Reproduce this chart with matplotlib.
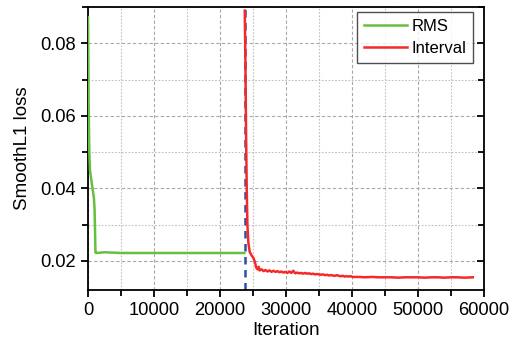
import matplotlib
matplotlib.use("Agg")
import matplotlib.pyplot as plt
from matplotlib.ticker import MultipleLocator

plt.rcParams['font.family'] = ['Liberation Sans', 'DejaVu Sans']

# RMS series
rms_iter = [0, 50, 100, 200, 300, 400, 600, 900, 1000, 1080, 1130, 1300, 2500, 5000, 10000, 15000, 20000, 23700]
rms_loss = [0.0872, 0.075, 0.063, 0.050, 0.045, 0.0437, 0.041, 0.0373, 0.034, 0.027, 0.0223, 0.0222, 0.0224,
            0.0222, 0.0222, 0.0222, 0.0222, 0.0222]

# Interval series
int_iter = [23750, 23850, 23950, 24050, 24150, 24300, 24500, 24800, 25100, 25300, 25500, 25700,
            25850, 26000, 26300, 26600, 26900, 27200, 27500, 27800, 28100, 28400, 28700, 29000,
            29300, 29600, 29900, 30200, 30500, 30800, 31100, 31400, 31700, 32000, 32300, 32600,
            32900, 33200, 33500, 33800, 34100, 34400, 34700, 35000, 35300, 35600, 35900, 36200,
            36500, 36800, 37100, 37400, 37700, 38000, 38300, 38600, 38900, 39200, 39500, 39800,
            40100, 41000, 42000, 43000, 44000, 45000, 46000, 47000, 48000, 49000, 50000, 51000,
            52000, 53000, 54000, 55000, 56000, 57000, 58300]
int_loss = [0.0890, 0.075, 0.055, 0.040, 0.030, 0.025, 0.0225, 0.0215, 0.0207, 0.0196, 0.0181, 0.0177,
            0.0184, 0.0174, 0.0177, 0.0172, 0.0175, 0.0171, 0.0174, 0.0170, 0.0173, 0.0170, 0.0172, 0.0169,
            0.0171, 0.0168, 0.0170, 0.0167, 0.0171, 0.0167, 0.0173, 0.0166, 0.0168, 0.0166, 0.0167, 0.0165,
            0.0167, 0.0165, 0.0166, 0.0164, 0.0165, 0.0163, 0.0164, 0.0163, 0.0162, 0.0163, 0.0161, 0.0162,
            0.0160, 0.0161, 0.0160, 0.0159, 0.0161, 0.0159, 0.0158, 0.0159, 0.0157, 0.0158, 0.0157, 0.0158,
            0.0156, 0.0156, 0.0155, 0.0156, 0.0155, 0.0155, 0.0155, 0.0154, 0.0155, 0.0155, 0.0155, 0.0154,
            0.0155, 0.0155, 0.0154, 0.0155, 0.0155, 0.0154, 0.0155]

switch_iter = 23800

fig = plt.figure(figsize=(5.18, 3.49), dpi=100)
ax = fig.add_axes([88/518, 1-290/349, (484-88)/518, (290-7)/349])

ax.plot(rms_iter, rms_loss, color='#66c03c', lw=1.8, label='RMS', zorder=3)
ax.plot(int_iter, int_loss, color='#f42a2a', lw=1.8, label='Interval', zorder=3)
ax.axvline(switch_iter, color='#2a52a8', lw=1.8, ls=(0, (3, 2.2)), zorder=2)

ax.set_xlim(0, 60000)
ax.set_ylim(0.012, 0.09)
ax.xaxis.set_major_locator(MultipleLocator(10000))
ax.xaxis.set_minor_locator(MultipleLocator(5000))
ax.yaxis.set_minor_locator(MultipleLocator(0.01))
ax.set_yticks([0.02, 0.04, 0.06, 0.08])
ax.set_yticklabels(['0.02', '0.04', '0.06', '0.08'])

ax.grid(which='major', color='#a8a8a8', ls=(0, (3, 2)), lw=0.8)
ax.grid(which='minor', color='#c0c0c0', ls=(0, (1.5, 1.5)), lw=0.8)
ax.set_axisbelow(True)

for s in ax.spines.values():
    s.set_linewidth(1.3)
ax.tick_params(which='major', direction='out', length=5, width=1.3, labelsize=13.2)
ax.tick_params(which='minor', direction='out', length=4, width=1.3)
ax.tick_params(axis='y', which='both', right=True)
for t in ax.yaxis.get_major_ticks() + ax.yaxis.get_minor_ticks():
    t.tick2line.set_marker(matplotlib.lines.TICKLEFT)

ax.set_xlabel('Iteration', fontsize=13.5, labelpad=2)
ax.set_ylabel('SmoothL1 loss', fontsize=13.5, labelpad=7)

leg = ax.legend(loc='upper right', fontsize=12, frameon=True, fancybox=False, edgecolor='#222222',
                handlelength=2.6, borderaxespad=0.0, bbox_to_anchor=(1 - 11/396, 1 - 5/283),
                handletextpad=0.25, labelspacing=0.45, borderpad=0.4)
leg.get_frame().set_linewidth(1.0)

fig.savefig('out.png', dpi=100)
